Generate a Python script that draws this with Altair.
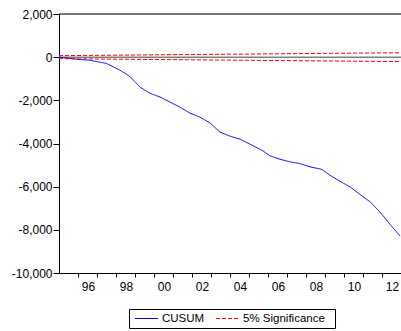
import altair as alt
import pandas as pd

# CUSUM values
years = [1995.0, 1996.1, 1996.6, 1997.5, 1998.2, 1998.74, 1999.26, 1999.79, 2000.32,
         2000.84, 2001.37, 2001.89, 2002.42, 2002.95, 2003.47, 2004.0, 2004.53,
         2005.05, 2005.68, 2006.1, 2006.63, 2007.16, 2007.68, 2008.21, 2008.84,
         2009.26, 2009.79, 2010.32, 2010.84, 2011.37, 2011.89, 2012.42, 2012.95]
cusum = [0, -110, -140, -290, -600, -900, -1390, -1670, -1850,
         -2080, -2320, -2590, -2780, -3050, -3470, -3660, -3800,
         -4030, -4310, -4570, -4730, -4850, -4930, -5080, -5200,
         -5470, -5750, -6010, -6360, -6700, -7170, -7740, -8290]

# 5% significance bounds (start and end)
bound_years = [1995.0, 2013.0]
upper = [70, 205]
lower = [-70, -205]

series_names = ["CUSUM", "5% Significance"]
series_colors = ["#0000ff", "#ff0000"]

rows = [{"year": y, "value": v, "series": "CUSUM", "part": "c"} for y, v in zip(years, cusum)]
rows += [{"year": y, "value": v, "series": "5% Significance", "part": "u"} for y, v in zip(bound_years, upper)]
rows += [{"year": y, "value": v, "series": "5% Significance", "part": "l"} for y, v in zip(bound_years, lower)]
df = pd.DataFrame(rows)

xscale = alt.Scale(domain=[1995, 2013], nice=False, zero=False)
yscale = alt.Scale(domain=[-10000, 2000], nice=False)

x_axis = alt.Axis(
    values=list(range(1996, 2013)),
    labelExpr="datum.value % 2 == 0 ? slice('0' + (datum.value % 100), -2) : ''",
    labelOffset=10, tickSize=4, labelPadding=4, labelOverlap=False,
    grid=False, title=None, domainColor="black", tickColor="black",
    labelColor="black", labelFontSize=12,
)
y_axis = alt.Axis(
    values=[-10000, -8000, -6000, -4000, -2000, 0, 2000],
    labelExpr="replace(format(datum.value, ','), '\u2212', '-')",
    tickSize=6, grid=False, title=None, domainColor="black", tickColor="black",
    labelColor="black", labelFontSize=12, labelPadding=1,
)

zero = alt.Chart(pd.DataFrame({"v": [0]})).mark_rule(color="#808080", strokeWidth=1.5).encode(
    y=alt.Y("v:Q", scale=yscale, axis=y_axis)
)
top = alt.Chart(pd.DataFrame({"v": [2000]})).mark_rule(color="black", strokeWidth=1).encode(
    y=alt.Y("v:Q", scale=yscale)
)

lines = alt.Chart(df).mark_line(strokeWidth=1, clip=True).encode(
    x=alt.X("year:Q", scale=xscale, axis=x_axis),
    y=alt.Y("value:Q", scale=yscale),
    detail="part:N",
    color=alt.Color("series:N", scale=alt.Scale(domain=series_names, range=series_colors), legend=None),
    strokeDash=alt.StrokeDash("series:N", scale=alt.Scale(domain=series_names, range=[[1, 0], [4, 2]]),
                              legend=None),
)

# Manual legend box (positions in pixels relative to the plot area)
one = pd.DataFrame({"k": [0]})
leg_box = alt.Chart(one).mark_rect(fill="white", stroke="black", strokeWidth=1).encode(
    x=alt.value(70.5), x2=alt.value(276.5), y=alt.value(295.5), y2=alt.value(314.5)
)
leg_blue = alt.Chart(one).mark_rule(color=series_colors[0], strokeWidth=1).encode(
    x=alt.value(76), x2=alt.value(99), y=alt.value(304.5)
)
leg_red = alt.Chart(one).mark_rule(color=series_colors[1], strokeWidth=1, strokeDash=[4, 2]).encode(
    x=alt.value(157), x2=alt.value(181), y=alt.value(304.5)
)
leg_t1 = alt.Chart(one).mark_text(align="left", baseline="middle", fontSize=11.5, color="black").encode(
    x=alt.value(103), y=alt.value(305), text=alt.value(series_names[0])
)
leg_t2 = alt.Chart(one).mark_text(align="left", baseline="middle", fontSize=11.5, color="black").encode(
    x=alt.value(184), y=alt.value(305), text=alt.value(series_names[1])
)

chart = alt.layer(zero, top, lines, leg_box, leg_blue, leg_red, leg_t1, leg_t2).properties(
    width=342, height=259,
    autosize=alt.AutoSizeParams(type="none"),
    padding={"left": 59, "top": 14, "right": 0, "bottom": 58},
).configure_view(stroke=None).configure(font="Liberation Sans")

chart.save("out.html", embed_options={"renderer": "svg", "actions": False})
